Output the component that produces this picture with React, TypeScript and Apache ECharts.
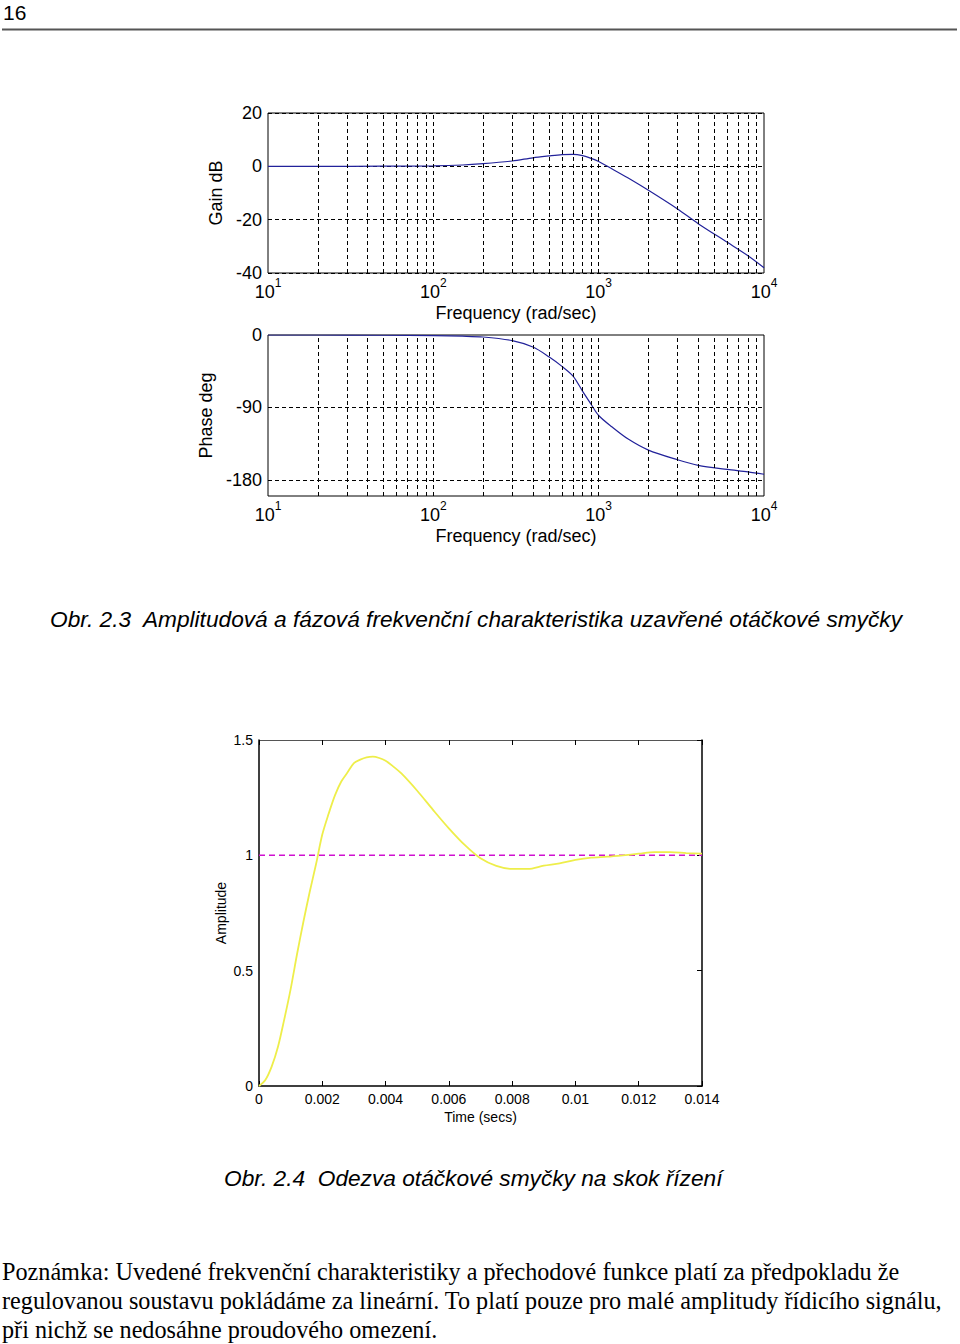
import React, { useEffect, useRef } from 'react';
import * as echarts from 'echarts';

// ---- Bode plot data (closed speed loop) ----
const frequencies = [10, 20, 50, 100, 150, 200, 300, 400, 500, 600, 700, 800, 900, 1000, 1200, 1500, 2000, 3000, 4000, 6000, 8000, 10000];
const gainDb = [0, 0, 0.05, 0.2, 0.5, 1.0, 2.0, 3.2, 3.9, 4.4, 4.5, 4.0, 3.0, 1.8, -0.9, -4.3, -9, -16, -21.5, -28.5, -33.5, -38];
const phaseDeg = [0, 0, -0.3, -0.8, -1.5, -2.5, -7, -15, -27, -39, -51, -70, -86, -100, -114, -129, -143, -155, -162, -167, -170, -173];
const gridFrequencies = [20, 30, 40, 50, 60, 70, 80, 90, 100, 200, 300, 400, 500, 600, 700, 800, 900, 1000, 2000, 3000, 4000, 5000, 6000, 7000, 8000, 9000];
const phaseLabelValues = [0, -90, -180];
const phaseGridLevels = [-90, -180];

// ---- Step response data ----
const stepTime = [0, 0.0002, 0.0004, 0.0006, 0.0008, 0.001, 0.0012, 0.0014, 0.0016, 0.0018, 0.002, 0.0022, 0.0024, 0.0026, 0.0028, 0.003, 0.0032, 0.0034, 0.0036, 0.0038, 0.004, 0.0042, 0.0045, 0.005, 0.0055, 0.006, 0.0065, 0.007, 0.0075, 0.008, 0.0085, 0.009, 0.0095, 0.01, 0.0105, 0.011, 0.0115, 0.012, 0.0125, 0.013, 0.0135, 0.014];
const stepAmplitude = [0, 0.026, 0.084, 0.17, 0.29, 0.42, 0.57, 0.71, 0.84, 0.96, 1.09, 1.18, 1.26, 1.32, 1.36, 1.4, 1.415, 1.425, 1.428, 1.422, 1.41, 1.39, 1.355, 1.28, 1.197, 1.117, 1.045, 0.987, 0.954, 0.941, 0.941, 0.955, 0.965, 0.98, 0.99, 0.994, 1.0, 1.007, 1.014, 1.014, 1.01, 1.007];
const steadyState = 1;
const stepTimeRange = [0, 0.014];

// ---- Texts ----
const pageNumber = '16';
const caption1 = 'Obr. 2.3  Amplitudová a fázová frekvenční charakteristika uzavřené otáčkové smyčky';
const caption2 = 'Obr. 2.4  Odezva otáčkové smyčky na skok řízení';
const noteLines = [
  'Poznámka: Uvedené frekvenční charakteristiky a přechodové funkce platí za předpokladu že',
  'regulovanou soustavu pokládáme za lineární. To platí pouze pro malé amplitudy řídicího signálu,',
  'při nichž se nedosáhne proudového omezení.',
];

const SANS = '"Liberation Sans", Arial, sans-serif';
const SERIF = '"Liberation Serif", "Times New Roman", serif';

const gridLine = { type: [4, 3] as any, color: '#000', width: 1 };

function logLabel(v: number) {
  return `{b|10}{s|${Math.round(Math.log10(v))}}`;
}
const logRich = {
  b: { fontSize: 18, fontFamily: SANS, color: '#000', lineHeight: 24, verticalAlign: 'bottom' },
  s: { fontSize: 12, fontFamily: SANS, color: '#000', lineHeight: 12, verticalAlign: 'top' },
};

function makeLogXAxis(gridIndex: number) {
  return {
    type: 'log',
    logBase: 10,
    gridIndex,
    min: 10,
    max: 10000,
    axisLine: { show: false },
    axisTick: { show: false },
    splitLine: { show: false },
    axisLabel: { formatter: logLabel, rich: logRich, margin: 4 },
    name: 'Frequency (rad/sec)',
    nameLocation: 'middle',
    nameGap: 31,
    nameTextStyle: { fontSize: 18, fontFamily: SANS, color: '#000' },
  };
}

function txt(text: string, x: number, y: number, size: number, family: string, italic = false, align = 'left') {
  return {
    type: 'text',
    x,
    y,
    silent: true,
    style: {
      text,
      fontSize: size,
      fontFamily: family,
      fontStyle: italic ? 'italic' : 'normal',
      fill: '#000',
      align,
      textAlign: align,
      verticalAlign: 'middle',
      textVerticalAlign: 'middle',
    },
  };
}

function tickIn() {
  return { show: true, inside: true, length: 5, lineStyle: { color: '#000', width: 1 } };
}
function stepLine(color: string, width: number) {
  return { show: true, onZero: false, lineStyle: { color, width } };
}

export default function App() {
  const ref = useRef<HTMLDivElement>(null);

  useEffect(() => {
    if (!ref.current) return;
    const chart = echarts.init(ref.current, undefined, { renderer: 'svg' });

    const gainData = frequencies.map((f, i) => [f, gainDb[i]]);
    const phaseData = frequencies.map((f, i) => [f, phaseDeg[i]]);
    const stepData = stepTime.map((t, i) => [t, stepAmplitude[i]]);
    const refData = stepTimeRange.map((t) => [t, steadyState]);

    const vGrid = {
      silent: true,
      symbol: ['none', 'none'],
      label: { show: false },
      lineStyle: gridLine,
      data: gridFrequencies.map((f) => ({ xAxis: f })),
    };

    const stepAxisLabel = { fontSize: 14, fontFamily: SANS, color: '#000' };

    const option: any = {
      animation: false,
      backgroundColor: '#fff',
      grid: [
        { left: 268, top: 113, width: 496, height: 160, show: true, borderColor: '#000', borderWidth: 1, backgroundColor: 'transparent' },
        { left: 268, top: 335, width: 496, height: 161, show: true, borderColor: '#000', borderWidth: 1, backgroundColor: 'transparent' },
        { left: 259, top: 740, width: 443, height: 346, show: false },
      ],
      xAxis: [
        makeLogXAxis(0),
        makeLogXAxis(1),
        {
          type: 'value',
          gridIndex: 2,
          min: 0,
          max: 0.014,
          interval: 0.002,
          axisLine: stepLine('#000', 1.5),
          axisTick: tickIn(),
          splitLine: { show: false },
          axisLabel: { ...stepAxisLabel, margin: 6, formatter: (v: number) => String(parseFloat(v.toFixed(3))) },
          name: 'Time (secs)',
          nameLocation: 'middle',
          nameGap: 24,
          nameTextStyle: stepAxisLabel,
        },
        {
          type: 'value',
          gridIndex: 2,
          position: 'top',
          min: 0,
          max: 0.014,
          interval: 0.002,
          axisLine: stepLine('#555', 1),
          axisTick: tickIn(),
          splitLine: { show: false },
          axisLabel: { show: false },
        },
      ],
      yAxis: [
        {
          type: 'value',
          gridIndex: 0,
          min: -40,
          max: 20,
          interval: 20,
          axisLine: { show: false },
          axisTick: { show: false },
          splitLine: { show: true, lineStyle: gridLine },
          axisLabel: { fontSize: 18, fontFamily: SANS, color: '#000', margin: 6 },
          name: 'Gain dB',
          nameLocation: 'middle',
          nameGap: 33,
          nameTextStyle: { fontSize: 18, fontFamily: SANS, color: '#000' },
        },
        {
          type: 'value',
          gridIndex: 1,
          min: -200,
          max: 0,
          interval: 10,
          axisLine: { show: false },
          axisTick: { show: false },
          splitLine: { show: false },
          axisLabel: {
            interval: 0,
            fontSize: 18,
            fontFamily: SANS,
            color: '#000',
            margin: 6,
            formatter: (v: number) => (phaseLabelValues.includes(Math.round(v)) ? String(Math.round(v)) : ''),
          },
          name: 'Phase deg',
          nameLocation: 'middle',
          nameGap: 43,
          nameTextStyle: { fontSize: 18, fontFamily: SANS, color: '#000' },
        },
        {
          type: 'value',
          gridIndex: 2,
          min: 0,
          max: 1.5,
          interval: 0.5,
          axisLine: stepLine('#000', 1.5),
          axisTick: { show: false },
          splitLine: { show: false },
          axisLabel: { ...stepAxisLabel, margin: 6 },
          name: 'Amplitude',
          nameLocation: 'middle',
          nameGap: 31,
          nameTextStyle: stepAxisLabel,
        },
        {
          type: 'value',
          gridIndex: 2,
          position: 'right',
          min: 0,
          max: 1.5,
          interval: 0.5,
          axisLine: stepLine('#000', 1.5),
          axisTick: tickIn(),
          splitLine: { show: false },
          axisLabel: { show: false },
        },
      ],
      series: [
        {
          type: 'line',
          xAxisIndex: 0,
          yAxisIndex: 0,
          data: gainData,
          showSymbol: false,
          smooth: 0.3,
          lineStyle: { color: '#22229a', width: 1.2 },
          markLine: vGrid,
          z: 3,
        },
        {
          type: 'line',
          xAxisIndex: 1,
          yAxisIndex: 1,
          data: phaseData,
          showSymbol: false,
          smooth: 0.3,
          lineStyle: { color: '#22229a', width: 1.2 },
          markLine: {
            ...vGrid,
            data: [
              ...gridFrequencies.map((f) => ({ xAxis: f })),
              ...phaseGridLevels.map((p) => ({ yAxis: p })),
            ],
          },
          z: 3,
        },
        {
          type: 'line',
          xAxisIndex: 2,
          yAxisIndex: 2,
          data: refData,
          showSymbol: false,
          lineStyle: { color: '#d010d0', width: 1.5, type: [6, 4] },
          z: 2,
        },
        {
          type: 'line',
          xAxisIndex: 2,
          yAxisIndex: 2,
          data: stepData,
          showSymbol: false,
          smooth: 0.3,
          lineStyle: { color: '#eeee4a', width: 1.8 },
          z: 3,
        },
      ],
      graphic: [
        txt(pageNumber, 3, 12, 21, SANS),
        {
          type: 'line',
          silent: true,
          shape: { x1: 2, y1: 29.5, x2: 957, y2: 29.5 },
          style: { stroke: '#555', lineWidth: 2 },
        },
        txt(caption1, 50, 619, 22.7, SANS, true),
        txt(caption2, 224, 1178, 22.7, SANS, true),
        ...noteLines.map((line, i) => txt(line, 2, 1271 + i * 29, 24.2, SERIF)),
      ],
    };

    chart.setOption(option);
    return () => chart.dispose();
  }, []);

  return <div ref={ref} style={{ position: 'absolute', left: 0, top: 0, width: 960, height: 1344 }} />;
}
